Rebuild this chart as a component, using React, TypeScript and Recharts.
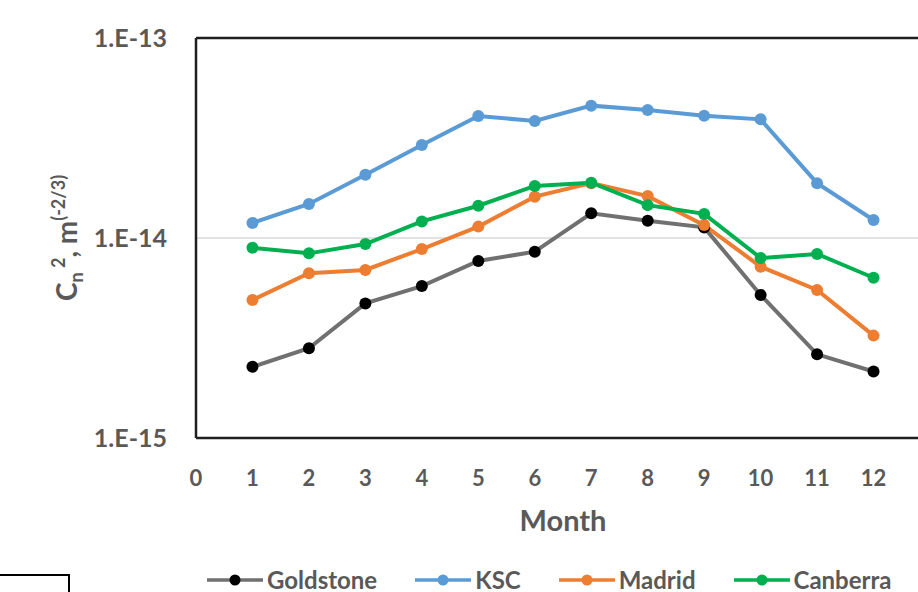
import { CartesianGrid, LineChart, Line, ReferenceLine, XAxis, YAxis } from "recharts";

const MONTHS = [1, 2, 3, 4, 5, 6, 7, 8, 9, 10, 11, 12];
const GOLDSTONE = [2.27e-15, 2.81e-15, 4.71e-15, 5.75e-15, 7.67e-15, 8.54e-15, 1.33e-14, 1.22e-14, 1.13e-14, 5.19e-15, 2.62e-15, 2.15e-15];
const KSC = [1.19e-14, 1.48e-14, 2.07e-14, 2.92e-14, 4.07e-14, 3.85e-14, 4.59e-14, 4.37e-14, 4.09e-14, 3.92e-14, 1.88e-14, 1.23e-14];
const MADRID = [4.9e-15, 6.66e-15, 6.92e-15, 8.81e-15, 1.14e-14, 1.61e-14, 1.88e-14, 1.62e-14, 1.16e-14, 7.19e-15, 5.5e-15, 3.25e-15];
const CANBERRA = [8.94e-15, 8.38e-15, 9.33e-15, 1.21e-14, 1.45e-14, 1.82e-14, 1.89e-14, 1.46e-14, 1.32e-14, 7.94e-15, 8.32e-15, 6.33e-15];

const X_TICKS = [0, 1, 2, 3, 4, 5, 6, 7, 8, 9, 10, 11, 12, 13];
const Y_TICKS = [1e-15, 1e-14, 1e-13];

const SERIES = [
  { key: "Goldstone", values: GOLDSTONE, line: "#707070", dot: "#000000" },
  { key: "KSC", values: KSC, line: "#5b9bd5", dot: "#5b9bd5" },
  { key: "Madrid", values: MADRID, line: "#ed7d31", dot: "#ed7d31" },
  { key: "Canberra", values: CANBERRA, line: "#00b050", dot: "#00b050" },
];

const FONT = "Lato, 'Open Sans', sans-serif";
const TEXT = "#595959";
const BORDER = "#1f1f1f";

const rows = MONTHS.map((m, i) => {
  const r: Record<string, number> = { month: m };
  for (const s of SERIES) r[s.key] = s.values[i];
  return r;
});

function fmtExp(v: number) {
  return `1.E${Math.round(Math.log10(v))}`;
}

function YTitle({ viewBox }: { viewBox?: any }) {
  const cy = viewBox ? viewBox.y + viewBox.height / 2 : 238;
  const cx = 77;
  return (
    <text
      x={cx}
      y={cy}
      transform={`rotate(-90 ${cx} ${cy})`}
      textAnchor="middle"
      fill={TEXT}
      fontFamily={FONT}
      fontWeight={700}
      fontSize={28}
    >
      C
      <tspan fontSize={18} dy={6}>n</tspan>
      <tspan fontSize={18} dy={-18}> 2</tspan>
      <tspan dy={12}>, m</tspan>
      <tspan fontSize={18} dy={-12}>(-2/3)</tspan>
    </text>
  );
}

function LegendRow() {
  return (
    <div
      style={{
        position: "absolute", left: 207, top: 569, width: 700, height: 22, display: "flex", alignItems: "center",
        gap: 38, fontFamily: FONT, fontWeight: 700, fontSize: 24, lineHeight: "22px", color: TEXT, whiteSpace: "nowrap",
      }}
    >
      {SERIES.map((s) => (
        <div key={s.key} style={{ display: "flex", alignItems: "center", flex: "none", height: 22 }}>
          <svg width={56} height={14} style={{ marginRight: 4 }}>
            <line x1={0} y1={7} x2={56} y2={7} stroke={s.line} strokeWidth={3.5} />
            <circle cx={28} cy={7} r={5.5} fill={s.dot} />
          </svg>
          <span>{s.key}</span>
        </div>
      ))}
    </div>
  );
}

export default function App() {
  return (
    <div style={{ position: "absolute", left: 0, top: 0, width: 918, height: 592, overflow: "hidden", background: "#fff" }}>
      <LineChart width={960} height={592} data={rows} margin={{ top: 38, right: 30, bottom: 54, left: 0 }}>
        <CartesianGrid horizontal vertical={false} stroke="#d9d9d9" strokeWidth={1.5} />
        <XAxis
          dataKey="month"
          type="number"
          domain={[0, 13]}
          ticks={X_TICKS}
          interval={0}
          height={100}
          tickLine={false}
          tickSize={0}
          tickMargin={32}
          axisLine={{ stroke: BORDER, strokeWidth: 2.5 }}
          tick={{ fill: TEXT, fontSize: 22, fontWeight: 700, fontFamily: FONT }}
          label={{
            value: "Month", position: "insideBottom", offset: 7,
            fill: TEXT, fontSize: 29, fontWeight: 700, fontFamily: FONT,
          }}
        />
        <YAxis
          scale="log"
          type="number"
          domain={[1e-15, 1e-13]}
          ticks={Y_TICKS}
          allowDataOverflow
          width={196}
          tickLine={false}
          tickSize={0}
          tickMargin={29}
          tickFormatter={fmtExp}
          axisLine={{ stroke: BORDER, strokeWidth: 2.5 }}
          tick={{ fill: TEXT, fontSize: 25, fontWeight: 700, fontFamily: FONT }}
          label={{ content: (p: any) => <YTitle viewBox={p.viewBox} /> }}
        />
        <ReferenceLine y={1e-13} stroke={BORDER} strokeWidth={2.5} />
        <ReferenceLine x={13} stroke={BORDER} strokeWidth={2.5} />
        {SERIES.map((s) => (
          <Line
            key={s.key}
            dataKey={s.key}
            type="linear"
            stroke={s.line}
            strokeWidth={4}
            dot={{ r: 6, fill: s.dot, stroke: "none" }}
            activeDot={false}
            isAnimationActive={false}
          />
        ))}
      </LineChart>
      <LegendRow />
      <div
        style={{
          position: "absolute", left: 0, top: 574, width: 68, height: 30,
          borderTop: "2px solid #000", borderRight: "2px solid #000",
        }}
      />
    </div>
  );
}
